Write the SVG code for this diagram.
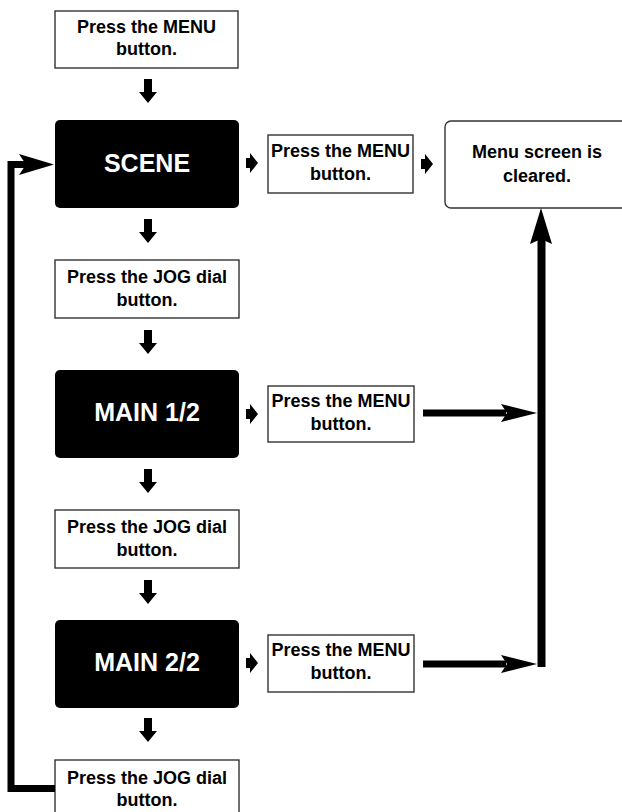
<svg xmlns="http://www.w3.org/2000/svg" xmlns:xlink="http://www.w3.org/1999/xlink" width="622" height="812" viewBox="0 0 622 812">
<style>
.box{fill:#fff;stroke:#333;stroke-width:1.4}
.dark{fill:#000}
.t{font-family:"Liberation Sans",Arial,sans-serif;font-weight:bold;font-size:18px;text-anchor:middle;fill:#000}
.big{font-family:"Liberation Sans",Arial,sans-serif;font-weight:bold;font-size:25px;text-anchor:middle;fill:#fff}
.ln{stroke:#000;fill:none}
</style>
<defs>
<path id="down" d="M-4,0 H4 V13 H9 L0,24 L-9,13 H-4 Z" fill="#000"/>
<path id="right" d="M0,-5 H4 V-10 L12,0 L4,10 V5 H0 Z" fill="#000"/>
</defs>
<rect width="622" height="812" fill="#fff"/>

<g id="n-menu1">
<rect class="box" x="55" y="11" width="183" height="57"/>
<text class="t" x="146.5" y="33">Press the MENU</text>
<text class="t" x="146.5" y="55">button.</text>
</g>

<g id="n-scene">
<rect class="dark" x="55" y="120" width="184" height="88" rx="5"/>
<text class="big" x="147" y="172">SCENE</text>
</g>

<g id="n-scene-menu">
<rect class="box" x="268" y="135" width="145" height="58"/>
<text class="t" x="340.5" y="157">Press the MENU</text>
<text class="t" x="340.5" y="180">button.</text>
</g>

<g id="n-cleared">
<rect class="box" x="445" y="121" width="190" height="87" rx="6"/>
<text class="t" x="537" y="158">Menu screen is</text>
<text class="t" x="537" y="182">cleared.</text>
</g>

<g id="n-jog1">
<rect class="box" x="55" y="260" width="184" height="58"/>
<text class="t" x="147" y="283">Press the JOG dial</text>
<text class="t" x="147" y="306">button.</text>
</g>

<g id="n-main1">
<rect class="dark" x="55" y="370" width="184" height="88" rx="5"/>
<text class="big" x="147" y="421">MAIN 1/2</text>
</g>

<g id="n-main1-menu">
<rect class="box" x="268" y="386" width="146" height="56"/>
<text class="t" x="341" y="407">Press the MENU</text>
<text class="t" x="341" y="430">button.</text>
</g>

<g id="n-jog2">
<rect class="box" x="55" y="510" width="184" height="58"/>
<text class="t" x="147" y="533">Press the JOG dial</text>
<text class="t" x="147" y="556">button.</text>
</g>

<g id="n-main2">
<rect class="dark" x="55" y="620" width="184" height="88" rx="5"/>
<text class="big" x="147" y="671">MAIN 2/2</text>
</g>

<g id="n-main2-menu">
<rect class="box" x="268" y="635" width="146" height="57"/>
<text class="t" x="341" y="656">Press the MENU</text>
<text class="t" x="341" y="679">button.</text>
</g>

<g id="n-jog3">
<rect class="box" x="55" y="760" width="184" height="58"/>
<text class="t" x="147" y="784">Press the JOG dial</text>
<text class="t" x="147" y="806">button.</text>
</g>

<g id="connectors">
<use xlink:href="#down" href="#down" x="148" y="79"/>
<use xlink:href="#down" href="#down" x="148" y="219"/>
<use xlink:href="#down" href="#down" x="148" y="330"/>
<use xlink:href="#down" href="#down" x="148" y="469"/>
<use xlink:href="#down" href="#down" x="148" y="580"/>
<use xlink:href="#down" href="#down" x="148" y="718"/>

<use xlink:href="#right" href="#right" x="246" y="163"/>
<use xlink:href="#right" href="#right" x="421" y="164"/>
<use xlink:href="#right" href="#right" x="246" y="414"/>
<use xlink:href="#right" href="#right" x="246" y="663"/>

<path class="ln" d="M55,788.5 H11 V164.5 H26" stroke-width="7" stroke-linejoin="miter"/>
<polygon points="54,164.5 19,154 26,164.5 19,175" fill="#000"/>

<line class="ln" x1="423" y1="413" x2="506" y2="413" stroke-width="7"/>
<polygon points="537,413 501,404 507,413 501,422" fill="#000"/>
<line class="ln" x1="423" y1="664" x2="506" y2="664" stroke-width="7"/>
<polygon points="537,664 501,655 507,664 501,673" fill="#000"/>
<line class="ln" x1="541.5" y1="667" x2="541.5" y2="238" stroke-width="8"/>
<polygon points="541,208 530,244 541,239 552,244" fill="#000"/>
</g>
</svg>
